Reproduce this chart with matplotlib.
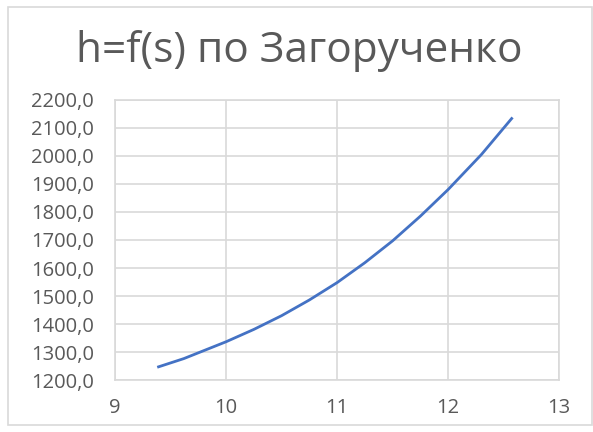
import matplotlib
matplotlib.use("Agg")
import matplotlib.pyplot as plt
import matplotlib.patches as patches
from matplotlib.ticker import FuncFormatter, MultipleLocator

# values
s = [9.38, 9.62, 10.0, 10.25, 10.5, 10.75, 11.0, 11.25, 11.5, 11.75, 12.0, 12.3, 12.58]
h = [1246, 1277, 1337, 1381, 1430, 1486, 1548, 1619, 1697, 1785, 1880, 2005, 2137]

title = "h=f(s) по Загорученко"
x_range = (9, 13)
y_range = (1200, 2200)

plt.rcParams['font.family'] = ['Open Sans', 'DejaVu Sans']

fig = plt.figure(figsize=(5.93, 4.32), dpi=100)
ax = fig.add_axes([0.194, 0.120, 0.749, 0.649])

ax.plot(s, h, '-', color='#4472C4', linewidth=2.0, solid_capstyle='butt')

ax.set_xlim(x_range)
ax.set_ylim(y_range)
ax.xaxis.set_major_locator(MultipleLocator(1))
ax.yaxis.set_major_locator(MultipleLocator(100))
ax.yaxis.set_major_formatter(FuncFormatter(lambda v, p: f"{v:.1f}".replace('.', ',')))

ax.grid(True, color='#d9d9d9', linewidth=1.2)
ax.set_axisbelow(True)
for sp in ax.spines.values():
	sp.set_color('#d9d9d9')
	sp.set_linewidth(1.2)
ax.tick_params(length=0, labelsize=14.5, labelcolor='#595959')
ax.tick_params(axis='y', pad=15)
ax.tick_params(axis='x', pad=13)

fig.text(0.505, 0.882, title, ha='center', va='center', fontsize=30.5, color='#595959')

# outer chart border
fig.patches.append(patches.Rectangle((8 / 593, 7 / 432), 584 / 593, 418 / 432,
	transform=fig.transFigure, fill=False, edgecolor='#d9d9d9', linewidth=1.2))

fig.savefig('out.png', dpi=100)
